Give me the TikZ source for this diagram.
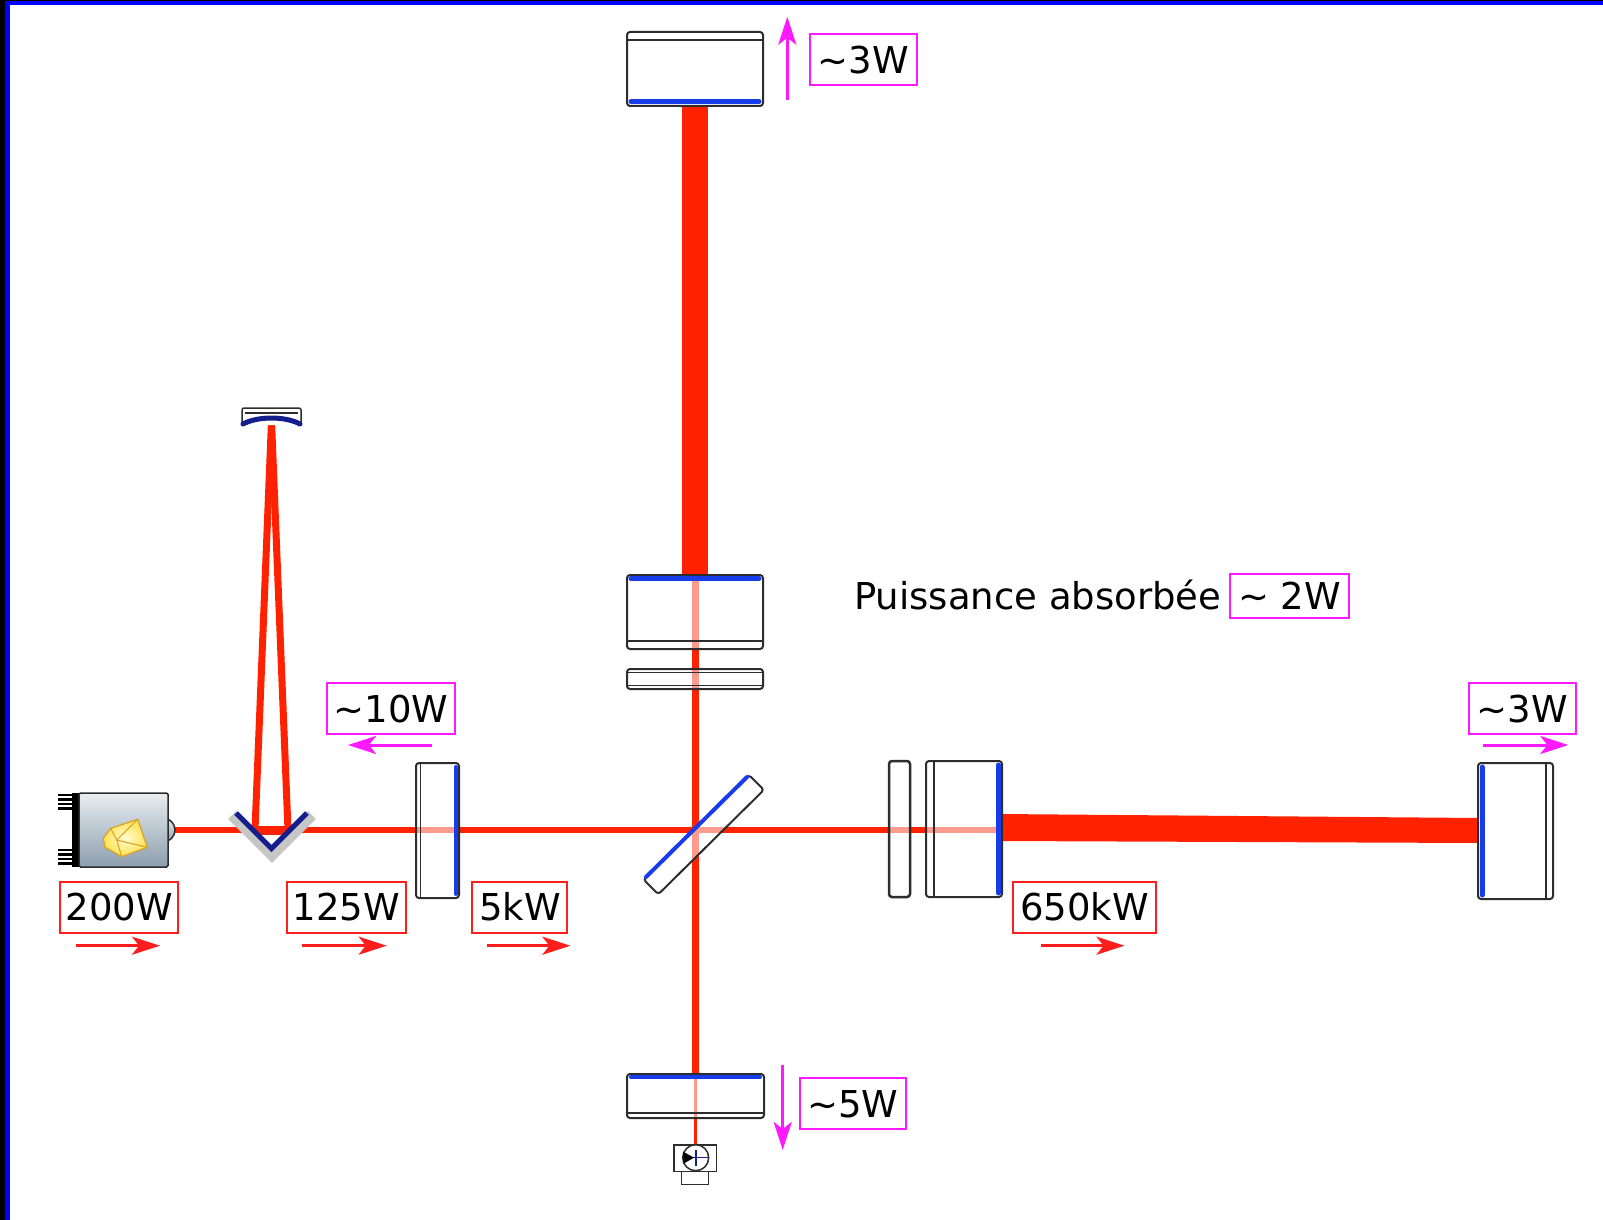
\documentclass[tikz,border=0pt]{standalone}
\usepackage{fontspec}
\setmainfont{DejaVu Sans}
\usetikzlibrary{arrows.meta}

\definecolor{beamred}{RGB}{255,34,0}
\definecolor{coat}{RGB}{25,60,235}
\definecolor{navy}{RGB}{20,30,140}
\definecolor{outl}{RGB}{45,45,45}
\definecolor{lblred}{RGB}{255,30,30}
\definecolor{lblmag}{RGB}{255,25,255}
\definecolor{frameblue}{RGB}{0,0,255}
\definecolor{crystal}{RGB}{255,226,80}
\definecolor{crystaledge}{RGB}{215,160,40}

\begin{document}
\begin{tikzpicture}[x=1pt,y=-1pt,
  optic/.style={draw=outl, line width=2pt, rounded corners=3pt, fill=white, fill opacity=0.55},
  solidoptic/.style={draw=outl, line width=2pt, rounded corners=3pt, fill=white},
  inner/.style={draw=outl, line width=1.4pt},
  coating/.style={draw=coat, line width=5pt, line cap=round},
  beam/.style={draw=beamred, line width=7pt},
  lbl/.style={line width=2pt, font=\fontsize{37}{41}\selectfont, text height=27.5pt, text depth=0pt, inner sep=0pt, minimum height=51pt},
  redlbl/.style={lbl, draw=lblred},
  maglbl/.style={lbl, draw=lblmag},
  redarr/.style={draw=lblred, fill=lblred, line width=3pt, -{Stealth[length=28pt,width=18pt,inset=7pt]}},
  magarr/.style={draw=lblmag, fill=lblmag, line width=3pt, -{Stealth[length=28pt,width=18pt,inset=7pt]}}
]
\useasboundingbox (0,0) rectangle (1603,1220);
\fill[white] (0,0) rectangle (1603,1220);

% window edge
\fill[black] (0,0) rectangle (5,1220);
\fill[black] (0,0) rectangle (1603,1);
\fill[frameblue] (5,1) rectangle (10,1220);
\fill[frameblue] (5,1) rectangle (1603,5);

% ---------------- beam path points ----------------
\coordinate (src)   at (172,830);
\coordinate (vL)    at (255,830);
\coordinate (vR)    at (288,830);
\coordinate (cm)    at (271.5,421);
\coordinate (itmx)  at (998,830);
\coordinate (bsx)   at (695.5,830);
\coordinate (itmy)  at (695.5,577);
\coordinate (etmy)  at (695.5,104);
\coordinate (outm)  at (695.5,1076);
\coordinate (pd)    at (695.5,1146);

% beams
\draw[beam, line width=6.5pt] (src) -- (itmx);
\draw[beam, line width=9pt] (vL) -- (vR);
\draw[beam] (vL) -- (cm);
\draw[beam] (vR) -- (cm);
\draw[beam, line width=7.5pt] (itmy) -- (outm);
\draw[beam, line width=3pt] (outm) -- (pd);
% high-power arm beams
\fill[beamred] (682,104) rectangle (708,577);
\fill[beamred] (999,814) -- (1480,818) -- (1480,843) -- (999,841) -- cycle;

% ---------------- laser source ----------------
\fill[black] (72,793) rectangle (79,867);
\foreach \y in {795,799.5,804,808.5,850,854.5,859,863.5}
  \draw[black, line width=2.8pt] (58,\y) -- (74,\y);
\shade[top color=gray!15, bottom color={rgb,255:red,140;green,160;blue,175}, draw=outl, line width=1.5pt]
  (163,830) circle[radius=12pt];
\shade[top color={rgb,255:red,232;green,237;blue,241}, bottom color={rgb,255:red,140;green,158;blue,172}, draw=outl, line width=1.5pt, rounded corners=1.5pt]
  (79,793) rectangle (168,867);
\shade[inner color={rgb,255:red,255;green,252;blue,210}, outer color=crystal, draw=crystaledge, line width=1.2pt]
  (103.3,838.3) -- (110.7,828.3) -- (137.7,819.3) -- (147.3,847.3) -- (121.7,856.7) -- (105,847.3) -- cycle;
\draw[crystaledge, line width=1pt] (110.7,828.3) -- (116.7,840) -- (147.3,847.3);
\draw[crystaledge, line width=1pt] (116.7,840) -- (121.7,856.7);
\draw[crystaledge, line width=1pt] (116.7,840) -- (137.7,819.3);

% ---------------- folding V mirror ----------------
\draw[gray!45, line width=11pt, line join=miter] (232,815) -- (272,855) -- (312,815);
\draw[navy, line width=5pt, line join=miter] (236,813) -- (271.5,848.5) -- (307,813);

% ---------------- curved mirror ----------------
\draw[outl, line width=1.5pt, fill=white, rounded corners=2pt]
  (242,425) -- (242,408) -- (301,408) -- (301,425);
\draw[inner, line width=1.2pt] (245,413) -- (298,413);
\draw[navy, line width=5pt, line cap=round] (243,424) .. controls (258,416) and (285,416) .. (300,424);

% ---------------- power recycling mirror ----------------
\draw[optic] (416,763) rectangle (459,898);
\draw[inner] (420.5,764) -- (420.5,897);
\draw[coating, line width=4pt] (456,767) -- (456,894);

% ---------------- beam splitter ----------------
\draw[optic] (643.5,879.5) -- (749,775) -- (763.9,789.9) -- (658.3,894.3) -- cycle;
\draw[coating, line width=4pt] (646,877) -- (747,777);

% ---------------- north arm ----------------
\draw[solidoptic] (627,32) rectangle (763,106);
\draw[inner] (628,40) -- (762,40);
\draw[coating] (631,101.5) -- (759,101.5);

\draw[optic] (627,575) rectangle (763,649);
\draw[inner] (628,641) -- (762,641);
\draw[coating] (631,578.5) -- (759,578.5);

\draw[optic] (627,669) rectangle (763,689);
\draw[inner, line width=1.2pt] (628,672.5) -- (762,672.5);
\draw[inner, line width=1.2pt] (628,685.5) -- (762,685.5);

% ---------------- east arm ----------------
\draw[optic, line width=2.5pt] (889,761) rectangle (910,897);

\draw[optic] (926,761) rectangle (1002,897);
\draw[inner] (934,762) -- (934,896);
\draw[coating] (998.5,765) -- (998.5,893);

\draw[solidoptic] (1478,763) rectangle (1553,899);
\draw[inner] (1546,764) -- (1546,898);
\draw[coating] (1482,767) -- (1482,895);

% ---------------- output port ----------------
\draw[optic] (627,1074) rectangle (764,1118);
\draw[inner] (628,1113) -- (763,1113);
\draw[coating, line width=4pt] (631,1077) -- (760,1077);

% photodiode
\draw[outl, line width=1.5pt, fill=white] (681.7,1171.7) rectangle (708.3,1184.3);
\draw[outl, line width=1.5pt, fill=white] (674,1145) rectangle (716.7,1171.7);
\draw[outl, line width=1.5pt, fill=white] (695.7,1157.7) circle[radius=13pt];
\draw[navy, line width=1.2pt] (683,1157.7) -- (708.3,1157.7);
\fill[black] (683.3,1151.7) -- (683.3,1163.7) -- (694,1157.7) -- cycle;
\draw[navy, line width=2pt] (696,1150) -- (696,1165.5);

% ---------------- power labels ----------------
\node[redlbl, minimum width=118pt]   (l200)  at (119.2,907) {200W};
\node[redlbl, minimum width=118.4pt] (l125)  at (346.5,907) {125W};
\node[redlbl, minimum width=95pt]    (l5k)   at (519.9,907) {5kW};
\node[redlbl, minimum width=143pt]   (l650k) at (1084.5,907) {650kW};
\node[maglbl, minimum width=128pt]   (l10)   at (391,708.5) {\textasciitilde10W};
\node[maglbl, minimum width=106.7pt] (l3n)   at (863.3,59.5) {\textasciitilde3W};
\node[maglbl, minimum width=106.4pt] (l3e)   at (1522.5,708.3) {\textasciitilde3W};
\node[maglbl, minimum width=106pt]   (l5)    at (853,1103.7) {\textasciitilde5W};
\node[maglbl, minimum width=119.6pt, minimum height=44pt] (l2) at (1289.6,595.5) {\textasciitilde\ 2W};
\node[font=\fontsize{37}{41}\selectfont, inner sep=0pt, anchor=base west] (tabs) at (854,609) {Puissance absorbée};

% direction arrows
\coordinate (a200s)  at (76,945.7);    \coordinate (a200e)  at (160,945.7);
\coordinate (a125s)  at (301.7,945.7); \coordinate (a125e)  at (386.7,945.7);
\coordinate (a5ks)   at (486.6,945.7); \coordinate (a5ke)   at (570.4,945.7);
\coordinate (a650s)  at (1040.7,945.7);\coordinate (a650e)  at (1124.5,945.7);
\coordinate (a10s)   at (432,745);     \coordinate (a10e)   at (348,745);
\coordinate (a3es)   at (1483.3,745);  \coordinate (a3ee)   at (1568.3,745);
\coordinate (a3ns)   at (787.3,100);   \coordinate (a3ne)   at (787.3,16.7);
\coordinate (a5s)    at (782.7,1065);  \coordinate (a5e)    at (782.7,1150);

\draw[redarr] (a200s) -- (a200e);
\draw[redarr] (a125s) -- (a125e);
\draw[redarr] (a5ks) -- (a5ke);
\draw[redarr] (a650s) -- (a650e);
\draw[magarr] (a10s) -- (a10e);
\draw[magarr] (a3es) -- (a3ee);
\draw[magarr] (a3ns) -- (a3ne);
\draw[magarr] (a5s) -- (a5e);
\end{tikzpicture}
\end{document}
